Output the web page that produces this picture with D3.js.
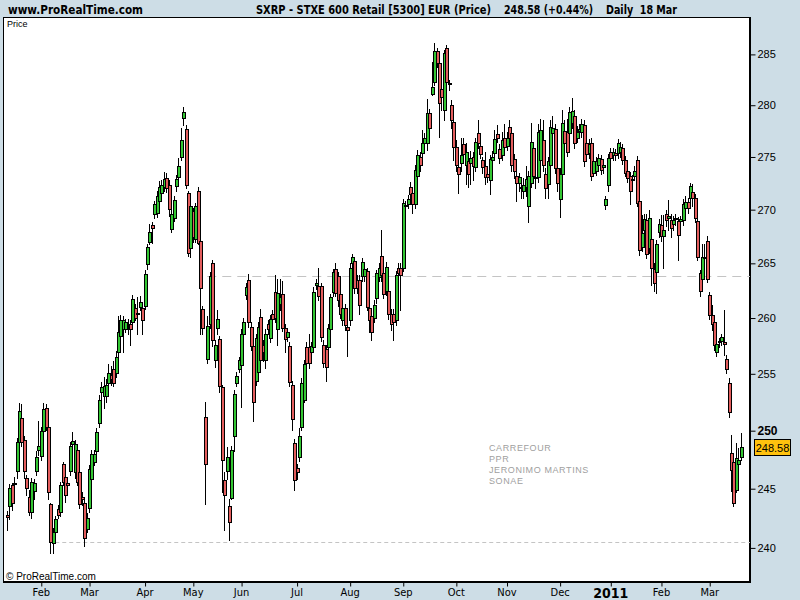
<!DOCTYPE html>
<html><head><meta charset="utf-8">
<script src="https://cdn.jsdelivr.net/npm/d3@7/dist/d3.min.js"></script>
<style>
html,body{margin:0;padding:0;background:#cddde6;}
svg{display:block;}
</style></head><body>
<svg id="c" width="800" height="600"></svg>
<script>
// ---- data (SXRP daily candles, 12 Jan 2010 - 18 Mar 2011) ----
const opens = [242.8,243.5,245.3,245.5,246.5,249.0,251.1,249.2,245.9,244.3,243.0,244.8,246.5,248.3,247.8,250.0,252.0,250.3,243.7,240.4,241.3,243.3,243.0,247.1,246.0,245.5,246.5,248.8,246.4,248.3,246.4,244.3,243.8,241.6,243.4,245.8,247.3,248.2,250.7,253.4,253.0,253.0,254.2,254.9,255.4,255.1,256.9,258.4,259.0,259.0,259.5,259.5,259.6,260.9,260.5,261.0,260.9,261.1,264.9,267.0,268.6,269.6,269.7,270.8,271.6,272.1,273.0,272.3,268.2,269.2,272.2,273.1,275.0,278.8,277.7,271.6,266.4,269.9,267.3,271.8,267.1,260.8,251.2,256.3,259.5,265.0,256.2,259.1,258.1,253.8,245.7,246.5,243.5,244.2,249.5,254.2,255.4,255.8,258.6,262.1,263.5,259.2,257.5,254.4,255.2,260.1,257.6,256.2,259.5,258.2,260.4,262.4,259.0,261.3,262.2,259.1,258.3,257.5,254.0,248.9,246.8,247.7,250.3,252.7,257.4,257.4,256.9,257.4,263.0,262.9,262.9,257.6,257.2,257.4,259.0,262.4,264.5,263.8,262.2,259.8,260.9,259.2,259.8,265.0,265.2,263.5,263.5,263.8,263.8,264.3,260.9,260.2,260.0,261.8,263.7,265.7,264.1,262.5,262.5,260.4,260.4,259.8,264.6,264.6,264.6,270.3,270.5,272.1,271.6,270.5,273.2,275.0,275.4,276.3,276.3,279.2,281.1,282.3,285.3,284.1,281.6,279.5,285.6,282.2,280.0,278.4,276.0,274.0,274.4,276.2,274.2,274.6,274.4,275.0,274.0,277.3,276.1,274.7,274.1,273.4,272.8,274.7,275.4,277.2,275.8,275.2,276.8,276.1,277.9,277.3,274.8,273.2,272.5,272.0,271.8,272.1,270.3,272.5,275.9,273.1,273.1,274.7,276.6,273.4,272.4,274.2,277.3,277.7,273.9,271.0,273.4,277.5,277.4,277.3,278.3,279.0,276.8,277.5,277.4,278.1,276.3,275.4,276.3,273.5,273.7,274.2,274.8,274.0,270.4,272.3,275.5,275.2,275.4,275.4,275.5,275.9,274.7,273.7,273.2,272.9,273.2,274.7,270.8,266.5,268.1,269.0,266.4,267.3,264.5,264.2,267.9,268.6,267.5,269.6,269.2,269.0,268.7,269.2,268.9,268.9,269.0,270.2,270.7,271.1,271.7,271.1,268.9,264.1,263.6,265.6,267.1,262.1,260.3,259.6,256.9,257.8,257.9,257.8,256.3,254.2,248.1,247.3,244.9,247.1,247.7];
const highs = [243.1,245.4,245.5,246.0,249.4,252.4,252.3,249.5,246.2,244.9,245.9,245.8,248.2,250.8,250.3,252.4,252.3,250.6,243.8,241.7,242.7,243.6,245.6,247.3,246.3,245.9,249.0,249.9,249.2,248.5,246.6,244.7,244.1,242.9,247.0,248.3,248.3,250.2,253.1,254.3,254.7,254.5,255.9,255.7,256.1,257.0,260.2,260.3,260.2,259.9,259.9,259.8,262.1,261.3,261.9,262.0,261.3,264.4,266.8,268.7,268.8,270.8,271.8,272.7,272.8,273.6,273.5,272.8,270.0,271.3,273.3,274.9,277.8,279.8,278.1,271.8,270.6,270.2,270.6,272.1,267.3,261.1,252.5,260.2,264.2,265.3,258.0,260.7,258.4,254.0,246.4,248.6,244.1,248.7,253.6,255.2,256.5,259.0,260.0,263.2,264.0,259.6,257.7,258.6,259.6,260.8,258.0,259.0,259.8,260.3,260.7,263.9,263.6,263.6,263.4,259.5,259.0,257.8,254.4,249.3,247.1,250.2,254.6,256.2,257.8,258.6,257.8,262.8,263.6,264.6,263.2,258.0,257.6,259.5,262.2,264.5,265.0,264.2,262.6,261.3,261.3,259.6,265.0,265.9,265.5,263.9,263.9,265.5,264.9,264.6,261.3,260.6,261.6,264.4,265.0,268.1,264.5,265.1,262.9,260.8,260.8,264.3,265.0,265.0,271.0,270.8,271.4,272.6,272.0,274.2,275.7,275.5,277.6,277.3,280.6,279.6,284.2,286.1,285.6,284.4,282.1,285.4,285.9,282.5,280.5,278.8,276.6,274.7,276.8,276.8,276.3,275.0,275.6,275.5,276.8,278.6,276.6,275.0,275.5,273.8,275.2,275.6,277.6,278.1,276.2,277.4,278.2,277.4,278.6,277.8,275.3,273.7,273.5,273.1,273.0,274.1,273.7,278.3,276.3,273.9,278.2,278.7,278.6,273.9,275.0,278.6,279.0,278.2,274.4,273.9,279.5,278.6,278.7,279.8,280.7,279.5,278.0,278.2,278.7,278.6,276.8,276.7,276.8,275.0,275.0,275.3,275.2,274.7,271.3,275.3,275.9,275.9,275.8,276.7,276.4,276.2,275.1,274.1,273.6,273.3,274.1,275.1,271.2,269.5,269.6,269.6,270.0,267.7,265.0,267.2,269.1,269.5,269.5,270.0,270.9,269.6,269.4,269.6,269.3,269.4,271.0,271.3,271.1,272.5,272.4,271.5,269.3,264.4,266.8,266.8,267.5,262.4,261.2,259.9,258.2,258.2,258.6,260.7,256.7,254.6,249.6,247.6,248.9,248.5,249.8];
const lows = [241.5,242.4,243.2,244.9,245.9,248.7,248.7,245.9,244.5,242.8,242.5,244.1,246.2,247.9,247.5,249.6,250.1,244.1,239.6,239.6,241.0,242.5,242.7,245.3,243.9,244.9,246.2,248.4,245.9,245.3,243.4,243.6,240.2,241.3,243.0,245.4,247.0,247.8,250.3,252.7,252.0,252.5,253.6,254.0,253.9,254.7,256.5,258.0,256.9,258.7,258.6,257.6,259.3,259.8,258.6,260.7,258.6,260.8,264.5,266.8,266.9,269.2,269.3,269.8,271.2,271.8,271.7,269.4,267.9,268.9,271.8,272.7,274.7,278.1,272.0,265.7,265.6,267.0,267.0,266.8,258.6,258.6,243.7,256.0,259.1,257.5,255.6,258.6,253.4,244.7,241.5,245.8,240.7,244.1,248.2,253.9,255.2,252.1,258.4,261.7,259.2,257.1,250.8,254.0,254.8,255.8,256.1,255.5,258.6,257.8,259.3,259.6,257.6,260.7,258.8,256.9,257.9,253.9,250.1,244.9,245.8,247.4,250.1,252.5,255.0,255.5,256.4,257.0,262.6,261.6,257.9,255.6,254.4,257.1,258.6,262.0,262.0,261.1,260.0,259.4,258.9,256.6,259.4,264.6,262.3,262.3,260.4,263.4,263.4,260.7,258.7,258.0,259.6,261.4,263.4,263.4,261.8,262.1,259.9,258.9,258.0,259.4,263.7,260.7,264.3,269.8,270.2,271.1,269.7,270.2,271.1,273.7,274.9,275.9,275.7,277.3,281.0,282.0,283.8,276.9,279.5,278.6,281.9,281.5,277.8,274.7,273.7,271.6,273.7,274.7,272.4,272.1,272.4,272.8,273.7,275.9,274.9,273.5,272.4,272.6,271.5,274.2,274.9,276.4,274.4,274.7,275.7,275.7,276.4,273.7,273.0,270.8,271.8,271.1,271.1,271.3,268.8,272.1,272.8,272.0,272.6,274.2,273.7,271.1,271.1,273.7,276.6,273.5,271.8,269.3,272.8,275.7,275.1,276.8,277.8,275.9,276.4,277.1,276.9,274.1,274.9,274.9,272.8,273.2,273.3,273.8,273.4,273.5,270.1,271.8,274.4,274.7,274.7,274.9,275.0,274.3,273.2,272.6,270.5,272.4,272.9,270.3,265.8,266.1,267.6,265.5,266.0,263.0,262.5,262.3,267.4,267.1,264.6,268.5,268.1,267.4,268.1,268.6,265.3,268.5,268.6,269.8,269.7,270.8,270.3,268.8,265.3,262.0,263.3,264.6,263.3,259.9,258.9,257.1,256.6,257.4,257.6,256.7,255.1,251.2,244.8,243.5,244.7,245.8,247.5];
const closes = [242.6,245.1,243.8,245.4,249.0,251.7,249.0,246.5,245.1,243.0,245.6,245.5,247.7,248.7,250.0,251.9,250.3,244.7,240.5,241.3,242.4,242.8,245.3,245.6,244.5,245.3,248.7,249.1,248.8,245.6,243.7,244.1,240.8,242.5,246.7,248.0,248.0,249.9,252.7,253.8,253.9,254.0,255.1,254.5,254.2,256.5,258.7,259.8,259.8,259.6,259.4,259.0,261.7,260.0,260.4,261.5,259.8,264.0,266.5,267.9,268.3,270.5,271.3,272.1,272.3,272.9,272.0,270.1,269.6,270.9,272.9,274.1,276.6,279.3,272.3,266.0,270.3,267.4,270.3,266.9,262.7,259.1,247.1,259.3,263.8,258.0,257.6,259.9,253.9,247.5,244.5,247.7,242.2,248.3,253.2,254.8,256.2,258.6,259.6,262.8,259.6,257.5,252.5,258.2,259.2,256.2,256.9,258.6,259.0,259.9,259.9,260.0,262.3,261.9,259.1,258.1,258.7,254.3,251.0,245.7,246.4,249.5,254.2,255.9,256.0,256.0,257.5,262.4,263.2,262.0,258.3,256.0,255.6,259.1,261.9,264.2,262.3,261.6,260.4,260.9,259.4,258.9,264.6,265.6,262.7,262.7,261.2,265.1,264.5,261.0,259.8,258.7,261.2,264.1,264.6,263.9,262.2,264.7,260.4,259.5,259.6,263.9,264.1,263.9,270.6,270.4,271.0,271.5,270.5,273.8,275.2,274.2,276.3,276.8,279.2,277.8,281.8,285.3,284.1,280.2,280.8,285.1,282.3,282.1,278.6,276.0,274.2,273.4,275.2,275.3,275.5,273.4,274.9,274.1,276.4,276.3,275.3,274.0,273.1,273.1,274.8,275.0,276.7,276.8,274.9,276.6,276.0,276.8,276.8,274.2,273.7,272.5,273.1,272.1,272.3,272.9,273.2,276.4,273.2,273.0,277.4,277.6,274.2,272.0,274.6,277.9,277.8,273.9,272.5,273.4,278.3,276.3,275.5,279.3,279.4,276.3,277.4,277.7,278.2,274.6,275.3,276.2,273.2,274.6,274.6,274.9,273.8,274.2,271.0,274.9,274.9,275.5,275.2,276.3,276.0,274.7,273.5,273.0,271.8,272.8,273.7,270.6,266.2,267.8,269.1,265.9,269.2,264.6,263.2,266.8,268.7,267.5,268.1,269.0,269.4,268.3,269.0,269.1,267.6,269.1,270.5,270.7,270.2,272.2,271.1,269.2,265.6,262.5,265.6,265.5,263.6,260.3,259.5,257.6,257.7,257.9,258.3,257.7,255.4,251.6,246.6,243.8,247.6,247.5,248.58];
const monthTickIdx = [14,34,57,77,97,120,142,164,186,207,229,250,271,291];
const monthLabels = ["Feb","Mar","Apr","May","Jun","Jul","Aug","Sep","Oct","Nov","Dec","2011","Feb","Mar"];
const priceTicks = [240,245,250,255,260,265,270,275,280,285];
const refLevels = [263.8, 240.5];
const refStartIdx = [83, 20];
const companies = ["CARREFOUR","PPR","JERONIMO MARTINS","SONAE"];
const lastPrice = 248.58;
const titleMain = "SXRP - STXE 600 Retail [5300] EUR (Price)";
const titleQuote = "248.58 (+0.44%)";
const titleDate = "Daily  18 Mar";

// ---- layout ----
const svg = d3.select("#c");
const W = 800, H = 600;
const plot = {left:3, top:17, right:750, bottom:581};
const NARROW = "'Liberation Sans Narrow','Arial Narrow','DejaVu Sans Condensed',sans-serif";
const SANS = "'Liberation Sans',Arial,sans-serif";
const GREEN = "#33c633", RED = "#e35d5d";

svg.append("rect").attr("width",W).attr("height",H).attr("fill","#cddde6");

const x = d3.scaleLinear().domain([0, closes.length-1]).range([7, 740.6]);
const y = d3.scaleLog().domain([240, 285]).range([547.9, 54.4]);

svg.append("defs").append("clipPath").attr("id","clip").append("rect")
  .attr("x",plot.left).attr("y",plot.top).attr("width",plot.right-plot.left).attr("height",plot.bottom-plot.top);

svg.append("rect").attr("x",plot.left+0.5).attr("y",plot.top+0.5)
  .attr("width",plot.right-plot.left-1).attr("height",plot.bottom-plot.top)
  .attr("fill","#fff").attr("stroke","#000");

const g = svg.append("g").attr("clip-path","url(#clip)");

// reference lines
g.selectAll("line.ref").data(refLevels).join("line")
  .attr("x1",(d,i)=>x(refStartIdx[i])).attr("x2",plot.right)
  .attr("y1",d=>Math.round(y(d))+0.5).attr("y2",d=>Math.round(y(d))+0.5)
  .attr("stroke","#c4c4c4").attr("stroke-width",1)
  .attr("stroke-dasharray",(d,i)=> i===0 ? "9,6" : "4,3");

const idx = d3.range(closes.length);
const px = i => Math.round(x(i));
g.selectAll("line.wick").data(idx).join("line")
  .attr("x1",i=>px(i)+0.5).attr("x2",i=>px(i)+0.5)
  .attr("y1",i=>Math.round(y(highs[i]))).attr("y2",i=>Math.round(y(lows[i]))+1)
  .attr("stroke","#000").attr("stroke-width",1);
g.selectAll("rect.body").data(idx).join("rect")
  .attr("x",i=>px(i)-0.5).attr("width",3)
  .attr("y",i=>Math.round(y(Math.max(opens[i],closes[i])))+0.5)
  .attr("height",i=>Math.max(1,Math.round(y(Math.min(opens[i],closes[i])))-Math.round(y(Math.max(opens[i],closes[i])))))
  .attr("fill",i=>closes[i]>=opens[i]?GREEN:RED)
  .attr("stroke","#000").attr("stroke-width",1);

// company annotation
svg.append("g").selectAll("text").data(companies).join("text")
  .attr("x",489).attr("y",(d,i)=>451+i*11)
  .attr("font-family",SANS).attr("font-size",9).attr("letter-spacing",0.6)
  .attr("fill","#a0a0a0").text(d=>d);

// inner labels
svg.append("text").attr("x",7).attr("y",27).attr("font-family",SANS).attr("font-size",9).attr("fill","#000").text("Price");
svg.append("text").attr("x",6).attr("y",580).attr("font-family",SANS).attr("font-size",10).attr("fill","#000").text("\u00A9 ProRealTime.com");

// y axis
const yAxis = svg.append("g").attr("transform",`translate(${plot.right+0.5},0)`)
  .call(d3.axisRight(y).tickValues(priceTicks).tickFormat(d3.format("d")).tickSize(5).tickPadding(2));
yAxis.select(".domain").attr("d",`M0,${plot.top}V${plot.bottom+1}`);
yAxis.selectAll("text").attr("font-family",SANS).attr("fill","#000")
  .attr("font-weight",d=>d===250?"bold":"normal")
  .attr("font-size",d=>d===250?12:11);

// last price tag
const tagY = y(lastPrice);
svg.append("rect").attr("x",754.5).attr("y",Math.round(tagY)-7.5).attr("width",36).attr("height",16)
  .attr("fill","#ffc20e").attr("stroke","#000");
svg.append("text").attr("x",772.5).attr("y",Math.round(tagY)+4.5).attr("text-anchor","middle")
  .attr("font-family",SANS).attr("font-size",11).attr("fill","#000").text(d3.format(".2f")(lastPrice));

// x axis
const xAxis = svg.append("g").attr("transform",`translate(0,${plot.bottom+1.5})`)
  .call(d3.axisBottom(x).tickValues(monthTickIdx).tickFormat((d,i)=>monthLabels[i]).tickSize(4).tickPadding(2));
xAxis.select(".domain").attr("d",`M${plot.left},0H${plot.right+1}`);
xAxis.selectAll(".tick line").attr("transform","translate(0.5,0)");
xAxis.selectAll("text").attr("font-family",NARROW).attr("fill","#000")
  .attr("font-weight",(d,i)=>monthLabels[i]==="2011"?"bold":"normal")
  .attr("font-size",(d,i)=>monthLabels[i]==="2011"?14:11);

// title
const titles = [
  {t:"www.ProRealTime.com", x:8, w:135},
  {t:titleMain, x:256, w:235},
  {t:titleQuote, x:504, w:89},
  {t:titleDate, x:606, w:71}
];
svg.append("g").selectAll("text").data(titles).join("text")
  .attr("x",d=>d.x).attr("y",14).attr("font-family",NARROW).attr("font-weight","bold")
  .attr("font-size",12).attr("textLength",d=>d.w).attr("lengthAdjust","spacingAndGlyphs")
  .attr("xml:space","preserve").text(d=>d.t);
</script>
</body></html>
